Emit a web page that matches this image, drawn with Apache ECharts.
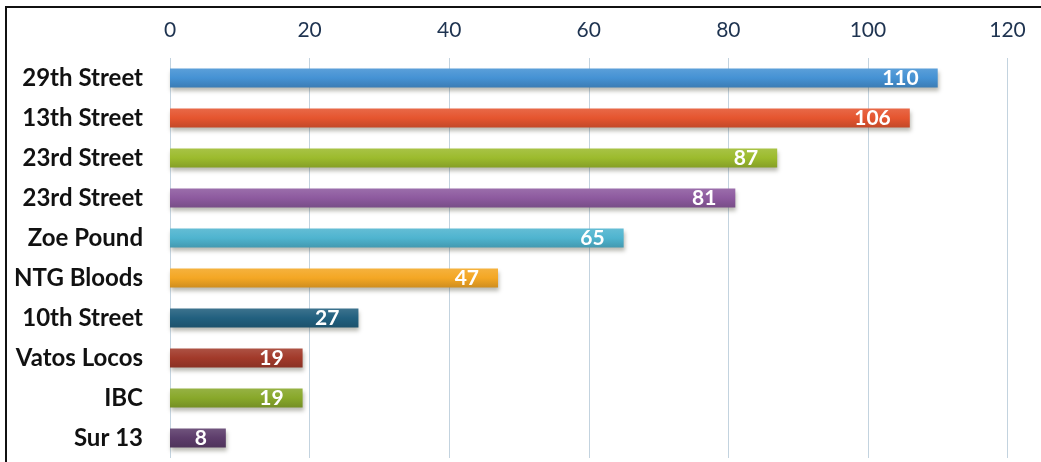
<!DOCTYPE html>
<html>
<head>
<meta charset="utf-8">
<script src="https://cdn.jsdelivr.net/npm/echarts@6/dist/echarts.min.js"></script>
<style>
html,body{margin:0;padding:0;background:#fff;}
#chart{width:1041px;height:462px;}
</style>
</head>
<body>
<div id="chart"></div>
<script>
const categories = ['29th Street','13th Street','23rd Street','23rd Street','Zoe Pound','NTG Bloods','10th Street','Vatos Locos','IBC','Sur 13'];
const values = [110,106,87,81,65,47,27,19,19,8];
const barColors = ['#4592d4','#e5552f','#9cbb2d','#8d5a9f','#4fb4cf','#f4a724','#22607f','#a23a2a','#88a82a','#5d3d6b'];
const xTicks = [0,20,40,60,80,100,120];

function shade(hex, amt){
  const n = parseInt(hex.slice(1),16);
  let r=(n>>16)&255,g=(n>>8)&255,b=n&255;
  const f = c => Math.max(0,Math.min(255,Math.round(amt>0? c+(255-c)*amt : c*(1+amt))));
  return 'rgb('+f(r)+','+f(g)+','+f(b)+')';
}

const chart = echarts.init(document.getElementById('chart'));
chart.setOption({
  backgroundColor:'#ffffff',
  animation:false,
  grid:{left:170,right:33.5,top:58,bottom:4,containLabel:false},
  xAxis:{
    type:'value', position:'top', min:xTicks[0], max:xTicks[xTicks.length-1], interval:20,
    axisLine:{show:false}, axisTick:{show:false},
    axisLabel:{color:'#1e3350',fontSize:21,fontFamily:'Lato',margin:17},
    splitLine:{show:true,lineStyle:{color:'#c3d3df',width:1}}
  },
  yAxis:{
    type:'category', inverse:true, data:categories,
    axisLine:{show:false}, axisTick:{show:false},
    axisLabel:{color:'#111',fontSize:24,fontWeight:'bold',fontFamily:'Lato',margin:27}
  },
  series:[{
    type:'bar',
    barWidth:19,
    data:values.map((v,i)=>({value:v,itemStyle:{
      color:new echarts.graphic.LinearGradient(0,0,0,1,[
        {offset:0,color:shade(barColors[i],0.12)},
        {offset:0.5,color:barColors[i]},
        {offset:1,color:shade(barColors[i],-0.15)}
      ]),
      shadowColor:'rgba(60,60,40,0.35)',shadowBlur:4,shadowOffsetY:3,shadowOffsetX:1
    }})),
    label:{show:true,position:'insideRight',distance:19,color:'#fff',fontSize:21,fontWeight:'bold',fontFamily:'Lato'}
  }],
  graphic:[{
    type:'rect', shape:{x:6,y:7,width:1100,height:500},
    style:{fill:null,stroke:'#111',lineWidth:2}, silent:true, z:100
  }]
});
</script>
</body>
</html>
